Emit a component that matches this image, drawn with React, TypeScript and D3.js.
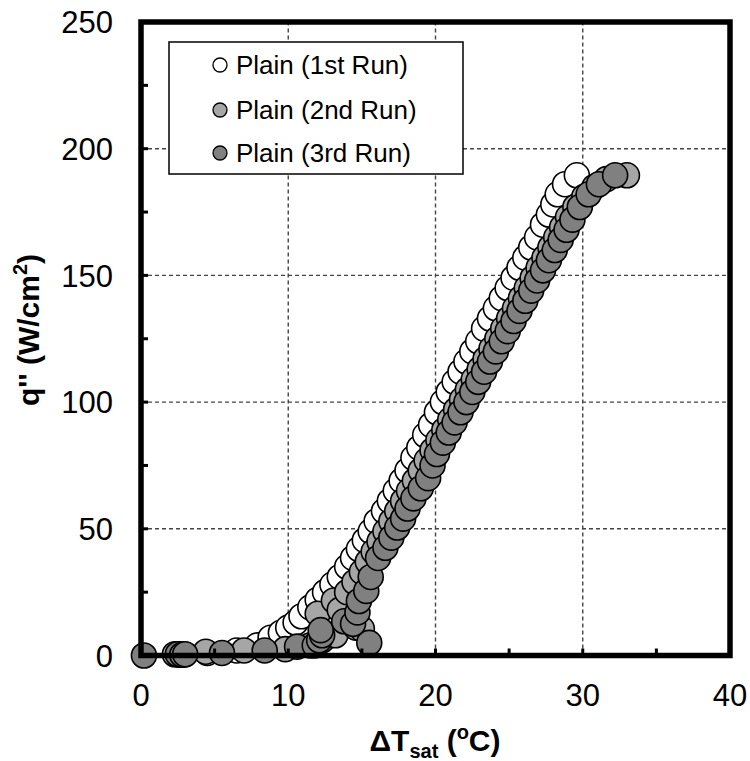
import React from "react";
import * as d3 from "d3";

// 1st run (white)
const run1DT = [2.6,4.5,6.5,7.9,8.8,9.5,10.0,10.5,10.9,11.5,12.0,12.5,13.0,13.5,14.0,14.4,14.8,15.2,15.6,16.0,16.5,16.9,17.3,17.7,18.1,18.5,18.9,19.3,19.7,20.1,20.5,20.9,21.3,21.7,22.1,22.5,22.9,23.3,23.7,24.1,24.5,24.9,25.3,25.7,26.1,26.5,26.9,27.3,27.7,28.0,28.3,28.8,29.6];
const run1Q = [0.5,1,2,4,7,9,11,13,15.5,19,22,25,28,31,35,38.5,42,45.5,49,53,57,61,65,69,73,78,82,87,91,96,100,104,108,112,116,120,124,129,133,137,141,145,149,153,157,161,165,170,174,178,182,186,189.5];

// 2nd run (light grey)
const run2DT = [2.3,4.4,7.0,9.8,11.5,12.3,13.2,14.6,15.0,12.0,13.1,13.5,14.0,14.5,15.0,15.4,15.8,16.2,16.6,17.0,17.4,17.8,18.2,18.6,19.0,19.4,19.8,20.2,20.6,21.0,21.4,21.8,22.2,22.6,23.0,23.4,23.8,24.2,24.6,25.0,25.4,25.8,26.2,26.6,27.0,27.4,27.8,28.2,28.6,29.0,29.5,30.1,30.8,31.6,33.0];
const run2Q = [0.5,1.5,2,2.5,4,6,8,11,10.5,16.5,21.7,18,25,29,33,37,41,45,49,53,57,61,65,69,73,77,81,85,89,93,97,101,105,109,113,117,121,125,129,133,137,141,145,149,153,157,161,165,169,173,177,181,185,188,189.5];

// 3rd run (dark grey)
const run3DT = [0.2,2.5,2.8,3.0,5.5,8.4,10.6,11.8,12.1,12.3,12.2,15.5,13.8,14.4,14.7,14.8,15.3,15.6,16.1,16.6,17.0,17.4,17.8,18.1,18.5,19.0,19.5,19.8,20.1,20.5,20.9,21.3,21.7,22.1,22.5,22.9,23.3,23.7,24.1,24.5,24.9,25.3,25.7,26.1,26.5,26.9,27.3,27.7,28.1,28.5,28.9,29.3,29.8,30.4,31.1,32.2];
const run3Q = [0,0.5,0.3,0.5,1,2,3.5,4,6,8,10,5,13.5,12.5,17,21.5,25.5,31,38.5,42.5,46.5,50.5,54,58,62,66,70,75,79.5,84,88,92,96,100,104,108,112,116,120,124,128,132,136,140,144,148,152,156,160,164,168,172,177,182,186,189.5];

const seriesNames = ["Plain (1st Run)", "Plain (2nd Run)", "Plain (3rd Run)"];
const seriesFills = ["#ffffff", "#a6a6a6", "#808080"];

const xTicks = [0, 10, 20, 30, 40];
const yTicks = [0, 50, 100, 150, 200, 250];
const xMinor = [5, 15, 25, 35];
const yMinor = [25, 75, 125, 175, 225];

const FONT = "'Liberation Sans', Arial, sans-serif";

export default function App() {
  const x = d3.scaleLinear().domain([0, 40]).range([141, 730]);
  const y = d3.scaleLinear().domain([0, 250]).range([655.5, 22]);
  const series = [
    { dt: run1DT, q: run1Q },
    { dt: run2DT, q: run2Q },
    { dt: run3DT, q: run3Q },
  ];
  const legX0 = 169, legY0 = 42, legW = 294, legH = 132;
  const rowY = [65, 110, 153];

  return (
    <svg width={750} height={761} style={{ position: "absolute", left: 0, top: 0 }} fontFamily={FONT}>
      <rect x={0} y={0} width={750} height={761} fill="#fff" />
      {/* gridlines */}
      {xTicks.filter(t => t > 0 && t < 40).map(t => (
        <line key={"gx" + t} x1={x(t)} x2={x(t)} y1={y(0)} y2={y(250)} stroke="#444" strokeWidth={1.4} strokeDasharray="4,3" />
      ))}
      {yTicks.filter(t => t > 0 && t < 250).map(t => (
        <line key={"gy" + t} x1={x(0)} x2={x(40)} y1={y(t)} y2={y(t)} stroke="#444" strokeWidth={1.4} strokeDasharray="4,3" />
      ))}
      {/* legend */}
      <rect x={legX0} y={legY0} width={legW} height={legH} fill="#fff" stroke="#000" strokeWidth={1.5} />
      {seriesNames.map((n, i) => (
        <g key={n}>
          <circle cx={220} cy={rowY[i]} r={7} fill={seriesFills[i]} stroke="#000" strokeWidth={1.3} />
          <text x={236} y={rowY[i]} dy="0.36em" fontSize={26} fill="#000">{n}</text>
        </g>
      ))}
      {/* data */}
      {series.map((s, si) => (
        <g key={"s" + si}>
          {s.dt.map((d, i) => (
            <circle key={i} cx={x(d)} cy={y(s.q[i])} r={12.5} fill={seriesFills[si]} stroke="#000" strokeWidth={1.6} />
          ))}
        </g>
      ))}
      {/* ticks */}
      {xTicks.concat(xMinor).filter(t => t > 0 && t < 40).map(t => (
        <line key={"tx" + t} x1={x(t)} x2={x(t)} y1={y(0)} y2={y(0) - 7} stroke="#000" strokeWidth={3} />
      ))}
      {yTicks.concat(yMinor).filter(t => t > 0 && t < 250).map(t => (
        <line key={"ty" + t} x1={x(0)} x2={x(0) + 7} y1={y(t)} y2={y(t)} stroke="#000" strokeWidth={3} />
      ))}
      {/* frame */}
      <rect x={x(0)} y={y(250)} width={x(40) - x(0)} height={y(0) - y(250)} fill="none" stroke="#000" strokeWidth={5.5} />
      {/* tick labels */}
      {xTicks.map(t => (
        <text key={"lx" + t} x={x(t)} y={706} textAnchor="middle" fontSize={31} fill="#000">{t}</text>
      ))}
      {yTicks.map(t => (
        <text key={"ly" + t} x={113} y={y(t)} dy="0.36em" textAnchor="end" fontSize={31} fill="#000">{t}</text>
      ))}
      {/* axis titles */}
      <text x={435} y={751} textAnchor="middle" fontSize={30} fontWeight="bold" fill="#000">
        ΔT<tspan fontSize={20} dy={7}>sat</tspan><tspan dy={-7}> (</tspan><tspan fontSize={20} dy={-12}>o</tspan><tspan dy={12}>C)</tspan>
      </text>
      <text transform="translate(39,330) rotate(-90)" textAnchor="middle" fontSize={30} fontWeight="bold" fill="#000">
        q'' (W/cm<tspan fontSize={20} dy={-12}>2</tspan><tspan dy={12}>)</tspan>
      </text>
    </svg>
  );
}
